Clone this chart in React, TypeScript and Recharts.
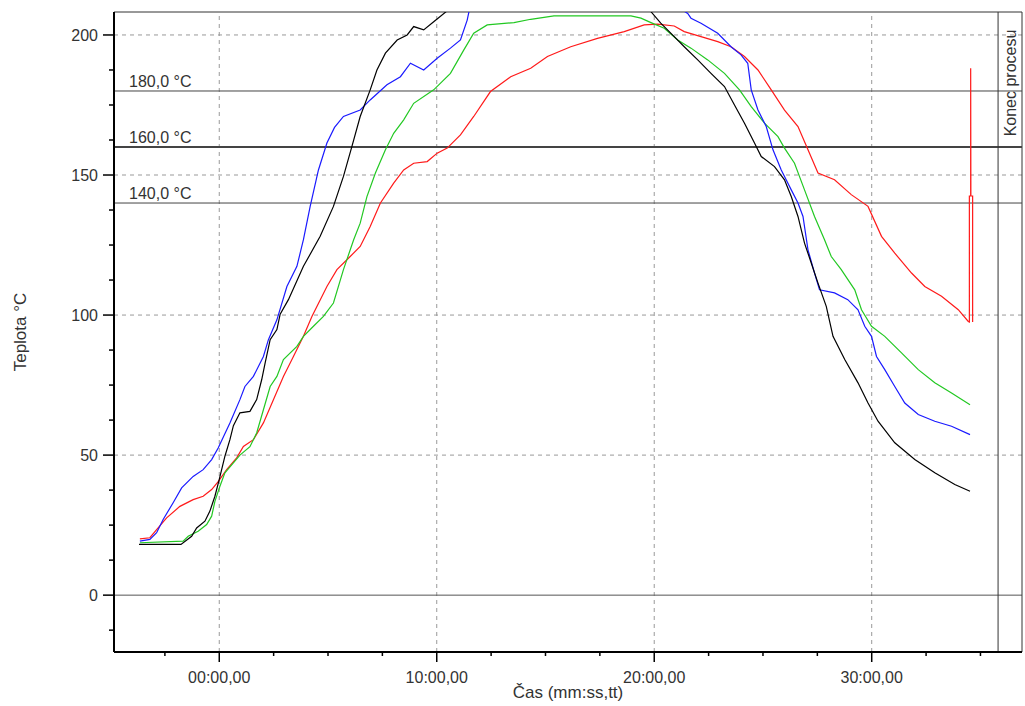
import React from 'react';
import { LineChart, Line, XAxis, YAxis, ReferenceLine } from 'recharts';

const FONT = '"Liberation Sans", Arial, sans-serif';
const TEXT = '#333';

// [time in minutes, temperature in °C]
const redSeries: [number, number][] = [
  [-3.65, 20.1], [-3.19, 20.5], [-2.88, 23.4], [-2.42, 27.6], [-1.81, 31.7], [-1.2, 34.1], [-0.74, 35.3],
  [-0.35, 37.7], [-0.05, 40.5], [0.34, 44.8], [0.8, 49], [1.11, 53.1], [1.57, 55.5], [2.03, 61.5],
  [2.49, 69.8], [2.95, 78.1], [3.41, 85.2], [3.87, 92.4], [4.26, 99.5], [4.95, 110.2], [5.41, 116.2],
  [6.02, 120.9], [6.48, 124.5], [6.94, 131.6], [7.41, 140], [8.02, 147.1], [8.48, 151.8], [8.94, 154.2],
  [9.56, 154.8], [10.02, 157.8], [10.48, 159.6], [11.09, 164.3], [11.7, 170.9], [12.47, 179.8],
  [13.4, 185.1], [14.32, 188.1], [15.09, 192.3], [16.16, 195.8], [17.39, 198.8], [18.62, 201.2],
  [19.54, 203.6], [20.16, 203.9], [20.92, 203.2], [21.38, 201.2], [22.15, 199.4], [22.92, 197.6],
  [23.53, 195.8], [24.15, 192.3], [24.77, 187.5], [25.38, 180.4], [25.99, 173.2], [26.61, 167.3],
  [27.07, 159], [27.53, 150.7], [28.29, 148.3], [29.06, 143], [29.83, 138.8], [30.45, 128.1],
  [31.06, 122.1], [31.83, 115], [32.44, 110.2], [33.21, 106.7], [33.98, 101.9], [34.44, 97.7],
  [34.49, 97.5], [34.49, 142.5], [34.55, 142.5], [34.55, 188.1], [34.56, 142.5], [34.64, 142.5],
  [34.64, 97.5],
];

const greenSeries: [number, number][] = [
  [-3.65, 18.7], [-1.66, 19.3], [-1.43, 21], [-0.97, 22.8], [-0.58, 25.2], [-0.35, 28.2], [-0.2, 33.5],
  [0.03, 38.9], [0.26, 43.7], [0.65, 47.2], [0.95, 50], [1.41, 53], [1.72, 57.9], [2.03, 66.2],
  [2.34, 74.5], [2.65, 78.1], [2.95, 84.1], [3.57, 88.8], [3.87, 92.4], [4.33, 96], [4.79, 99.5],
  [5.25, 104.3], [5.71, 116.2], [6.18, 126.9], [6.48, 132.8], [6.79, 142.3], [7.18, 150.7], [7.64, 159],
  [8.02, 164.9], [8.48, 169.7], [8.94, 175.6], [9.86, 180.4], [10.63, 186.3], [11.24, 194.6],
  [11.7, 200.6], [12.32, 203.6], [13.55, 204.4], [14.32, 205.6], [15.39, 206.8], [18.93, 206.8],
  [19.39, 206], [19.85, 204.4], [20.46, 202.4], [21.08, 198.2], [21.69, 195.3], [22.46, 191.1],
  [23.23, 186.3], [23.92, 180.4], [24.46, 174.4], [25.07, 168.5], [25.69, 163.7], [25.99, 159.6],
  [26.45, 154.2], [26.91, 144.7], [27.37, 135.2], [27.83, 126.9], [28.14, 120.9], [28.6, 116.2],
  [29.22, 109], [29.53, 101.9], [29.99, 96], [30.6, 92.4], [31.37, 86.5], [32.14, 80.5], [32.9, 75.8],
  [33.67, 72.2], [34.52, 68],
];

const blueSeries: [number, number][] = [
  [-3.65, 19.3], [-3.19, 19.9], [-2.88, 22.3], [-2.58, 27], [-2.12, 33], [-1.73, 38.3], [-1.2, 42.4],
  [-0.74, 44.8], [-0.35, 48.4], [-0.05, 52.5], [0.49, 61.5], [0.95, 69.8], [1.18, 74.5], [1.57, 78.1],
  [2.03, 85.2], [2.26, 91.2], [2.65, 98.3], [3.11, 110.2], [3.57, 117.4], [3.87, 126.9], [4.18, 138.8],
  [4.56, 151.8], [4.95, 161.4], [5.3, 167], [5.71, 170.9], [6.48, 173.2], [6.94, 176.8], [7.71, 182.2],
  [8.33, 185.1], [8.79, 189.9], [9.4, 187.5], [10.02, 191.7], [10.63, 195.3], [11.09, 198.2],
  [11.4, 205.3], [11.5, 209], [13, 216], [17, 220], [20, 215], [21.54, 207.7], [21.69, 206],
  [22.15, 204.2], [22.92, 200.6], [23.53, 195.8], [23.99, 192.9], [24.3, 189.9], [24.46, 180.4],
  [24.77, 173.2], [25.15, 167.3], [25.46, 159], [25.84, 151.8], [26.3, 144.7], [26.61, 140],
  [26.84, 135.2], [27.07, 123.3], [27.37, 115], [27.6, 109], [28.29, 107.9], [28.9, 105.5],
  [29.37, 101.9], [29.68, 96], [29.99, 92.4], [30.22, 85.2], [30.6, 80.5], [31.06, 74.5], [31.52, 68.6],
  [32.14, 64.5], [32.9, 62.1], [33.67, 60.3], [34.52, 57.3],
];

const blackSeries: [number, number][] = [
  [-3.69, 18.1], [-1.76, 18.1], [-1.27, 21], [-1.04, 24], [-0.66, 26.4], [-0.43, 30], [-0.2, 35.3],
  [0, 41.3], [0.26, 49.6], [0.49, 55.5], [0.65, 60.5], [0.95, 65.1], [1.41, 65.6], [1.72, 69.8],
  [1.95, 76.9], [2.11, 82.9], [2.34, 91.2], [2.65, 94.8], [2.8, 100.3], [3.18, 105.5], [3.87, 117.4],
  [4.64, 128.1], [5.25, 138.8], [5.71, 149.5], [6.1, 160.2], [6.48, 170.9], [6.94, 180.4], [7.25, 187.5],
  [7.64, 193.5], [8.18, 198.2], [8.64, 200], [8.94, 203], [9.4, 201.8], [9.86, 204.7], [10.46, 208.5],
  [12, 216], [15, 220], [18, 216], [19.85, 208.3], [20.3, 204.2], [20.92, 199.4], [21.38, 195.8],
  [22, 191.1], [22.61, 186.3], [23.23, 181.6], [23.69, 175], [24.15, 168.5], [24.61, 161.4],
  [24.92, 156.6], [25.53, 153], [25.99, 148.3], [26.3, 142.3], [26.61, 135.2], [26.91, 125.7],
  [27.22, 118.6], [27.53, 111.4], [27.91, 103.1], [28.22, 92.4], [28.76, 84.1], [29.37, 75.8],
  [29.83, 68.6], [30.29, 62.1], [31.06, 54.4], [31.98, 48.4], [32.9, 43.7], [33.82, 39.5], [34.52, 37.1],
];

const xTicks = [-2.5, 0, 2.5, 5, 7.5, 10, 12.5, 15, 17.5, 20, 22.5, 25, 27.5, 30, 32.5, 35];
const yTicks = [-12.5, 0, 12.5, 25, 37.5, 50, 62.5, 75, 87.5, 100, 112.5, 125, 137.5, 150, 162.5, 175, 187.5, 200];
const xGrid = [0, 10, 20, 30];
const yGrid = [50, 100, 150, 200];
const levels = [
  { value: 180, label: '180,0 °C', width: 1 },
  { value: 160, label: '160,0 °C', width: 2 },
  { value: 140, label: '140,0 °C', width: 1 },
];
const processEnd = 35.81;
const xDomain: [number, number] = [-4.84, 36.91];
const yDomain: [number, number] = [-20.3, 208.2];

const toRows = (pts: [number, number][]) => pts.map(([t, v]) => ({ t, v }));

const fmtTime = (m: number) => `${String(m).padStart(2, '0')}:00,00`;

const TimeTick = (props: any) => {
  const { x, y, payload } = props;
  const major = payload.value >= 0 && payload.value % 10 === 0;
  return (
    <g>
      <line x1={x} y1={y} x2={x} y2={y + (major ? 10 : 4)} stroke="#000" strokeWidth={1.5} />
      {major && (
        <text x={x} y={y + 31} textAnchor="middle" fill={TEXT} fontSize={16} fontFamily={FONT}>
          {fmtTime(payload.value)}
        </text>
      )}
    </g>
  );
};

const TempTick = (props: any) => {
  const { x, y, payload } = props;
  const major = payload.value % 50 === 0;
  return (
    <g>
      <line x1={x - (major ? 11 : 5)} y1={y} x2={x} y2={y} stroke="#000" strokeWidth={1.5} />
      {major && (
        <text x={x - 16} y={y + 6} textAnchor="end" fill={TEXT} fontSize={16} fontFamily={FONT}>
          {payload.value}
        </text>
      )}
    </g>
  );
};

const LevelLabel = (props: any) => {
  const { viewBox, text } = props;
  return (
    <text x={viewBox.x + 15} y={viewBox.y - 4} fill={TEXT} fontSize={16} fontFamily={FONT}>
      {text}
    </text>
  );
};

const EndLabel = (props: any) => {
  const { viewBox } = props;
  const cx = viewBox.x + 12;
  const cy = viewBox.y + 71;
  return (
    <text
      x={cx}
      y={cy}
      transform={`rotate(-90 ${cx} ${cy})`}
      textAnchor="middle"
      dominantBaseline="central"
      fill={TEXT}
      fontSize={16}
      fontFamily={FONT}
    >
      Konec procesu
    </text>
  );
};

const XTitle = (props: any) => {
  const { viewBox } = props;
  return (
    <text x={viewBox.x + viewBox.width / 2} y={viewBox.y + 46} textAnchor="middle" fill={TEXT} fontSize={17} fontFamily={FONT}>
      Čas (mm:ss,tt)
    </text>
  );
};

const YTitle = () => {
  const cx = 20;
  const cy = 332;
  return (
    <text x={cx} y={cy} transform={`rotate(-90 ${cx} ${cy})`} textAnchor="middle" dominantBaseline="central" fill={TEXT} fontSize={17} fontFamily={FONT}>
      Teplota °C
    </text>
  );
};

export default function App() {
  const series = [
    { key: 'red', data: toRows(redSeries), color: '#ff1a1a' },
    { key: 'green', data: toRows(greenSeries), color: '#22c822' },
    { key: 'blue', data: toRows(blueSeries), color: '#1a1aff' },
    { key: 'black', data: toRows(blackSeries), color: '#000000' },
  ];

  return (
    <div style={{ position: 'absolute', left: 0, top: 0, width: 1025, height: 706, background: '#fff' }}>
      <LineChart width={1025} height={706} margin={{ top: 12, right: 3, left: 0, bottom: 0 }}>
        <XAxis
          dataKey="t"
          type="number"
          domain={xDomain}
          ticks={xTicks}
          allowDataOverflow
          height={54}
          tickSize={0}
          tickMargin={0}
          tickLine={false}
          tick={<TimeTick />}
          axisLine={{ stroke: '#000', strokeWidth: 2 }}
          label={<XTitle />}
        />
        <YAxis
          dataKey="v"
          type="number"
          domain={yDomain}
          ticks={yTicks}
          allowDataOverflow
          width={114}
          tickSize={0}
          tickMargin={0}
          tickLine={false}
          tick={<TempTick />}
          axisLine={{ stroke: '#000', strokeWidth: 2 }}
          label={<YTitle />}
        />
        {xGrid.map((v) => (
          <ReferenceLine key={`gx${v}`} x={v} stroke="#999" strokeDasharray="4 4" />
        ))}
        {yGrid.map((v) => (
          <ReferenceLine key={`gy${v}`} y={v} stroke="#999" strokeDasharray="4 4" />
        ))}
        <ReferenceLine y={0} stroke="#555" />
        <ReferenceLine y={yDomain[1]} stroke="#333" />
        <ReferenceLine x={xDomain[1]} stroke="#333" />
        {levels.map((l) => (
          <ReferenceLine key={`lv${l.value}`} y={l.value} stroke="#444" strokeWidth={l.width} label={<LevelLabel text={l.label} />} />
        ))}
        <ReferenceLine x={processEnd} stroke="#333" label={<EndLabel />} />
        {series.map((s) => (
          <Line
            key={s.key}
            data={s.data}
            dataKey="v"
            type="linear"
            stroke={s.color}
            strokeWidth={1.2}
            dot={false}
            activeDot={false}
            isAnimationActive={false}
          />
        ))}
      </LineChart>
    </div>
  );
}
